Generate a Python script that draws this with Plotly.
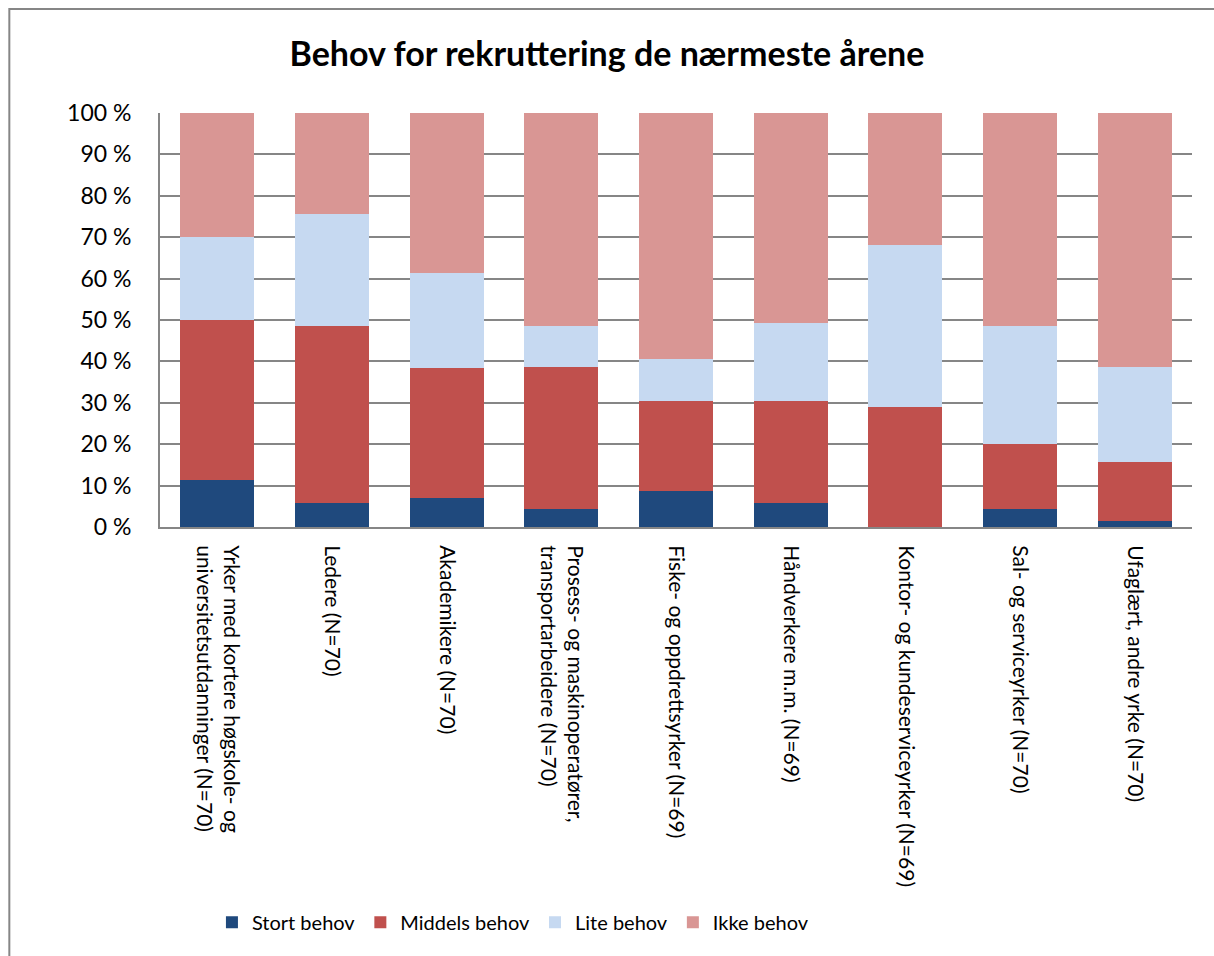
import plotly.graph_objects as go

categories = [
    "Yrker med kortere høgskole- og<br>universitetsutdanninger (N=70)",
    "Ledere (N=70)",
    "Akademikere (N=70)",
    "Prosess- og maskinoperatører,<br>transportarbeidere (N=70)",
    "Fiske- og oppdrettsyrker (N=69)",
    "Håndverkere m.m. (N=69)",
    "Kontor- og kundeserviceyrker (N=69)",
    "Sal- og serviceyrker (N=70)",
    "Ufaglært, andre yrke (N=70)",
]
stort = [11.4, 5.7, 7.1, 4.3, 8.7, 5.8, 0.0, 4.3, 1.4]
middels = [38.6, 42.9, 31.4, 34.3, 21.7, 24.6, 29.0, 15.7, 14.3]
lite = [20.0, 27.1, 22.9, 10.0, 10.1, 18.8, 39.1, 28.6, 22.9]
ikke = [30.0, 24.3, 38.6, 51.4, 59.4, 50.7, 31.9, 51.4, 61.4]

series_names = ["Stort behov", "Middels behov", "Lite behov", "Ikke behov"]
series_values = [stort, middels, lite, ikke]
colors = ["#1F497D", "#C0504D", "#C6D9F1", "#D99694"]

tick_vals = [0, 10, 20, 30, 40, 50, 60, 70, 80, 90, 100]
tick_text = [f"{v} %" for v in tick_vals]

FONT = "Lato, Liberation Sans, sans-serif"

fig = go.Figure()
for name, vals, col in zip(series_names, series_values, colors):
    fig.add_trace(go.Bar(x=categories, y=vals, name=name, marker_color=col,
                         marker_line_width=0))

fig.update_layout(
    barmode="stack",
    bargap=0.355,
    width=1214, height=956,
    paper_bgcolor="white", plot_bgcolor="white",
    margin=dict(l=160, r=22, t=113, b=429),
    title=dict(text="<b>Behov for rekruttering de nærmeste årene</b>",
               x=0.5, xanchor="center", y=0.943, yanchor="middle",
               font=dict(family=FONT, size=34, color="black")),
    font=dict(family=FONT, size=19, color="black"),
    legend=dict(orientation="h", x=0.342, xanchor="center", y=-0.955, yanchor="middle",
                font=dict(family=FONT, size=20), traceorder="normal", itemwidth=30),
    showlegend=True,
)
fig.update_xaxes(tickangle=90, showline=True, linecolor="#868686", linewidth=2,
                 ticks="", ticklabelstandoff=12, tickfont=dict(size=21))
fig.update_yaxes(range=[0, 100], tickvals=tick_vals, ticktext=tick_text,
                 showgrid=True, gridcolor="#868686", gridwidth=2,
                 showline=True, linecolor="#868686", linewidth=2, ticks="",
                 ticklabelstandoff=22, zeroline=False, tickfont=dict(size=23))
fig.add_shape(type="rect", xref="paper", yref="paper", x0=-0.146, x1=1.03,
              y0=-1.2, y1=1.251, line=dict(color="#868686", width=2))
fig.write_html("out.html")
